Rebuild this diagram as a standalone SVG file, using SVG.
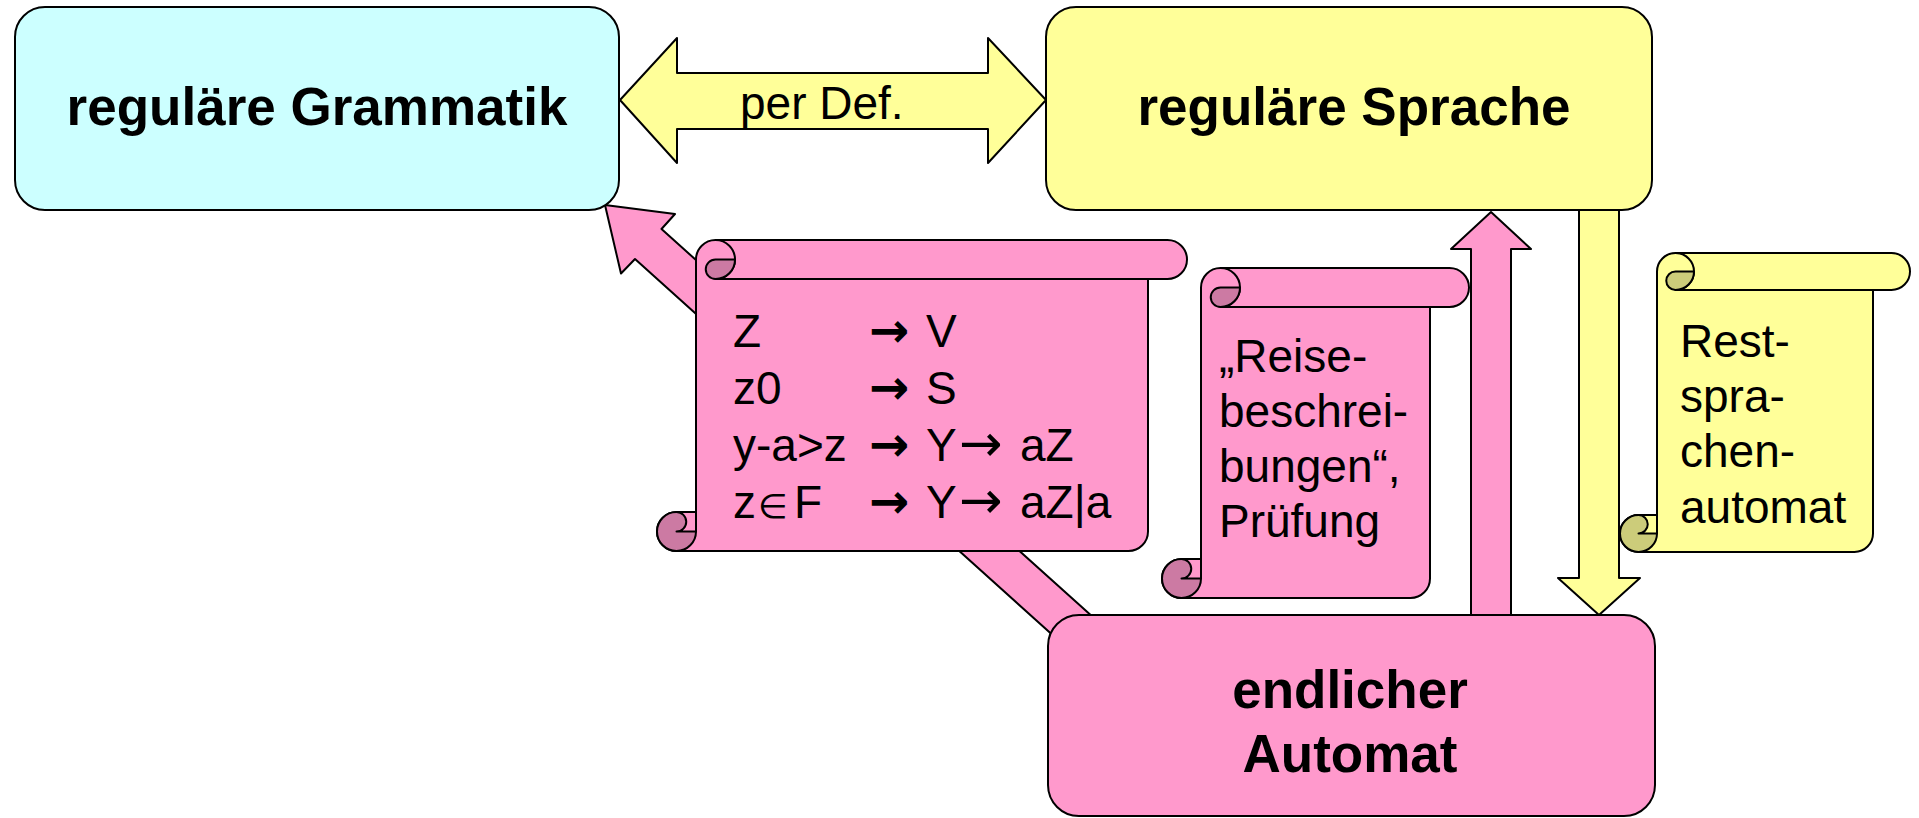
<svg xmlns="http://www.w3.org/2000/svg" width="1919" height="818" viewBox="0 0 1919 818">
<style>
.ln{stroke:#000;stroke-width:2;stroke-linejoin:round}
.pk{fill:#FF99CC}
.pkd{fill:#CC7AA3}
.yl{fill:#FFFF99}
.yld{fill:#CCCC7A}
.cy{fill:#CCFFFF}
.nf{fill:none}
.tb{font-family:"Liberation Sans",Arial,sans-serif;font-weight:bold;font-size:53px;fill:#000;text-anchor:middle}
.tr{font-family:"Liberation Sans",Arial,sans-serif;font-size:46px;fill:#000}
.ar{font-family:"DejaVu Sans",sans-serif;font-weight:bold;font-size:48px}
.ta{font-family:"DejaVu Sans",sans-serif;font-size:52px}
.sym{font-family:"DejaVu Sans",sans-serif;font-size:34px}
</style>
<rect width="1919" height="818" fill="#fff"/>
<g id="connectors">
<polygon class="yl ln" points="620,100 677,38 677,73 988,73 988,38 1046,100 988,163 988,129 677,129 677,163"/>
<text class="tr" x="740" y="119">per Def.</text>
<polygon class="pk ln" points="605,205 675,214 661.5,229 1094,618 1067,648 635,259 621,273.5"/>
<polygon class="pk ln" points="1471,616 1471,249 1451,249 1491,212 1531,249 1511,249 1511,616"/>
<polygon class="yl ln" points="1579,209 1619,209 1619,578 1640,578 1599,615 1558,578 1579,578"/>
</g>
<g id="grammatik">
<rect class="cy ln" x="15" y="7" width="604" height="203" rx="30" ry="30"/>
<text class="tb" x="317" y="125">reguläre Grammatik</text>
</g>
<g id="sprache">
<rect class="yl ln" x="1046" y="7" width="606" height="203" rx="30" ry="30"/>
<text class="tb" x="1354" y="125">reguläre Sprache</text>
</g>
<g id="automat">
<rect class="pk ln" x="1048" y="615" width="607" height="201" rx="31" ry="31"/>
<text class="tb" x="1350" y="708">endlicher</text>
<text class="tb" x="1350" y="772">Automat</text>
</g>
<g id="scroll-grammatik">
<path class="pk ln" d="M696,531.5 L696,259.5 A19.5,19.5 0 0 1 715.5,240 L1167.5,240 A19.5,19.5 0 0 1 1167.5,279 L1148,279 L1148,531.5 A19.5,19.5 0 0 1 1128.5,551 L676.5,551 A19.5,19.5 0 0 1 676.5,512 L696,512 Z"/>
<path class="nf ln" d="M715.5,240 A19.5,19.5 0 0 1 715.5,279 L1148,279"/>
<path class="pkd ln" d="M735,259.5 A19.5,19.5 0 0 1 715.5,279 A9.75,9.75 0 0 1 715.5,259.5 Z"/>
<path class="pkd ln" d="M676.5,512 A19.5,19.5 0 0 0 676.5,551 A19.5,19.5 0 0 0 696,531.5 L676.5,531.5 A9.75,9.75 0 0 0 676.5,512 Z"/>
<text class="tr" y="347"><tspan x="733">Z</tspan><tspan class="ar" x="869">→</tspan><tspan x="926">V</tspan></text>
<text class="tr" y="404"><tspan x="733">z0</tspan><tspan class="ar" x="869">→</tspan><tspan x="926">S</tspan></text>
<text class="tr" y="461"><tspan x="733">y-a&gt;z</tspan><tspan class="ar" x="869">→</tspan><tspan x="926">Y</tspan><tspan class="ta" x="959">→</tspan><tspan x="1020">aZ</tspan></text>
<text class="tr" y="518"><tspan x="733">z</tspan><tspan class="sym" x="758">∈</tspan><tspan x="794">F</tspan><tspan class="ar" x="869">→</tspan><tspan x="926">Y</tspan><tspan class="ta" x="959">→</tspan><tspan x="1020">aZ|a</tspan></text>
</g>
<g id="scroll-reise">
<path class="pk ln" d="M1201,578.5 L1201,287.5 A19.5,19.5 0 0 1 1220.5,268 L1449.5,268 A19.5,19.5 0 0 1 1449.5,307 L1430,307 L1430,578.5 A19.5,19.5 0 0 1 1410.5,598 L1181.5,598 A19.5,19.5 0 0 1 1181.5,559 L1201,559 Z"/>
<path class="nf ln" d="M1220.5,268 A19.5,19.5 0 0 1 1220.5,307 L1430,307"/>
<path class="pkd ln" d="M1240,287.5 A19.5,19.5 0 0 1 1220.5,307 A9.75,9.75 0 0 1 1220.5,287.5 Z"/>
<path class="pkd ln" d="M1181.5,559 A19.5,19.5 0 0 0 1181.5,598 A19.5,19.5 0 0 0 1201,578.5 L1181.5,578.5 A9.75,9.75 0 0 0 1181.5,559 Z"/>
<text class="tr" x="1219" y="372">„Reise-</text>
<text class="tr" x="1219" y="427">beschrei-</text>
<text class="tr" x="1219" y="482">bungen“,</text>
<text class="tr" x="1219" y="537">Prüfung</text>
</g>
<g id="scroll-rest">
<path class="yl ln" d="M1657,533.5 L1657,271.5 A18.5,18.5 0 0 1 1675.5,253 L1891.5,253 A18.5,18.5 0 0 1 1891.5,290 L1873,290 L1873,533.5 A18.5,18.5 0 0 1 1854.5,552 L1638.5,552 A18.5,18.5 0 0 1 1638.5,515 L1657,515 Z"/>
<path class="nf ln" d="M1675.5,253 A18.5,18.5 0 0 1 1675.5,290 L1873,290"/>
<path class="yld ln" d="M1694,271.5 A18.5,18.5 0 0 1 1675.5,290 A9.25,9.25 0 0 1 1675.5,271.5 Z"/>
<path class="yld ln" d="M1638.5,515 A18.5,18.5 0 0 0 1638.5,552 A18.5,18.5 0 0 0 1657,533.5 L1638.5,533.5 A9.25,9.25 0 0 0 1638.5,515 Z"/>
<text class="tr" x="1680" y="357">Rest-</text>
<text class="tr" x="1680" y="412">spra-</text>
<text class="tr" x="1680" y="467">chen-</text>
<text class="tr" x="1680" y="523">automat</text>
</g>
</svg>
